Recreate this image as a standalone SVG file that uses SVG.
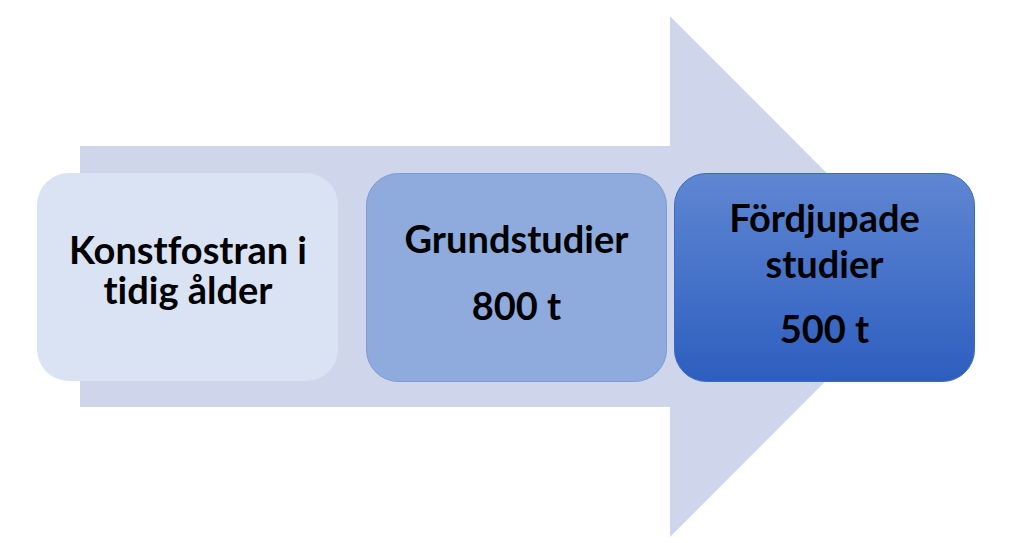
<svg xmlns="http://www.w3.org/2000/svg" width="1021" height="543" viewBox="0 0 1021 543">
  <defs>
    <linearGradient id="g3" x1="0" y1="0" x2="0" y2="1">
      <stop offset="0" stop-color="#5f86d2"/>
      <stop offset="1" stop-color="#2d5ebf"/>
    </linearGradient>
    <style>
      .t { font-family: Lato, "Open Sans", "Liberation Sans", sans-serif; font-weight: bold; font-size: 38px; fill: #000; text-anchor: middle; font-variant-ligatures: none; font-feature-settings: "liga" 0, "clig" 0; }
    </style>
  </defs>
  <rect width="1021" height="543" fill="#ffffff"/>
  <g id="arrow">
    <polygon points="80,146 670,146 670,16 930,276.5 670,537 670,407 80,407" fill="#cfd5ea"/>
  </g>
  <g id="node1">
    <rect x="37" y="173" width="301" height="208" rx="32" fill="#dae3f3"/>
    <text class="t" x="188" y="264">Konstfostran i</text>
    <text class="t" x="188" y="304">tidig ålder</text>
  </g>
  <g id="node2">
    <rect x="366.5" y="173.5" width="300" height="208" rx="32" fill="#8faadc" stroke="#7c9bd4" stroke-width="1"/>
    <text class="t" x="516.5" y="253">Grundstudier</text>
    <text class="t" x="516.5" y="320">800 t</text>
  </g>
  <g id="node3">
    <rect x="674.5" y="173.5" width="300" height="208" rx="32" fill="url(#g3)" stroke="#3a68c4" stroke-width="1"/>
    <text class="t" x="824.5" y="232">Fördjupade</text>
    <text class="t" x="824.5" y="278">studier</text>
    <text class="t" x="824.5" y="343">500 t</text>
  </g>
  <g id="connectors"/>
</svg>
